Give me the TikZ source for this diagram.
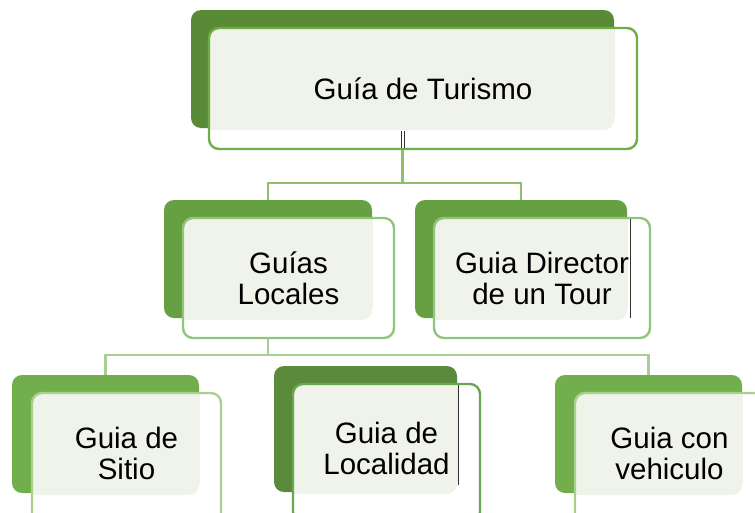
\documentclass[tikz,border=0pt]{standalone}
\usepackage{fontspec}
\setmainfont{Liberation Sans}
\definecolor{topback}{HTML}{598B37}
\definecolor{topline}{HTML}{70AD47}
\definecolor{midback}{HTML}{67A042}
\definecolor{midline}{HTML}{93C47D}
\definecolor{botback}{HTML}{72AE4C}
\definecolor{botline}{HTML}{A9D18E}
\definecolor{locback}{HTML}{5B8A3A}
\definecolor{locline}{HTML}{6AA84F}
\definecolor{fillc}{HTML}{EFF3EA}
\definecolor{connA}{HTML}{8DBF6E}
\definecolor{connB}{HTML}{A8CF92}
\tikzset{
  backbox/.style={fill=#1, draw=none, rounded corners=10pt, inner sep=0pt},
  frontbox/.style={draw=#1, line width=2.4pt, rounded corners=10pt, inner sep=0pt,
    align=center, font=\fontsize{29.5}{31}\selectfont},
  boxtext/.style={inner sep=0pt, align=center, font=\fontsize{29.5}{31}\selectfont},
  lightfill/.style={fill=fillc, rounded corners=10pt},
  conn/.style={draw=#1, line width=2.4pt},
  artifact/.style={draw=black!80, line width=0.8pt}
}
% light fill: rounded top-left and bottom-right corners, square elsewhere
\newcommand\lfill[4]{%
  \path[lightfill] (#1,#2) rectangle (#3,#4);
  \path[fill=fillc] (#3-10,#2) rectangle (#3,#2+10);
  \path[fill=fillc] (#1,#4-10) rectangle (#1+10,#4);
}
\begin{document}
\begin{tikzpicture}[x=1pt,y=-1pt]
\useasboundingbox (0,0) rectangle (755,512);
\clip (0,0) rectangle (755,512);

% top box
\node[backbox=topback, minimum width=423pt, minimum height=118pt] (tb) at (402.5,69) {};
\lfill{209}{28}{614}{130}
\node[frontbox=topline, minimum width=428pt, minimum height=121pt] (top) at (423,88.5) {Guía de Turismo};

% middle left
\node[backbox=midback, minimum width=208pt, minimum height=118pt] (lb) at (268,259) {};
\lfill{183}{218}{372}{320}
\node[frontbox=midline, minimum width=211pt, minimum height=120pt] (gl) at (288.5,278) {Guías\\Locales};

% middle right
\node[backbox=midback, minimum width=212pt, minimum height=118pt] (rb) at (521,259) {};
\lfill{434}{218}{627}{320}
\node[frontbox=midline, minimum width=216pt, minimum height=120pt] (gd) at (542,278) {Guia Director\\de un Tour};

% bottom left
\node[backbox=botback, minimum width=187pt, minimum height=118pt] (sb) at (105.5,434) {};
\lfill{32}{393}{199}{495}
\node[frontbox=botline, minimum width=189pt, minimum height=130pt] (gsf) at (126.5,458) {};
\node[boxtext] (gs) at (126.5,453) {Guia de\\Sitio};

% bottom middle
\node[backbox=locback, minimum width=183pt, minimum height=126pt] (mb) at (365.5,429) {};
\lfill{293}{384}{457}{494}
\node[frontbox=locline, minimum width=187pt, minimum height=138pt] (gmf) at (386.5,453) {};
\node[boxtext] (gm) at (386.5,448) {Guia de\\Localidad};

% bottom right
\node[backbox=botback, minimum width=187pt, minimum height=118pt] (vb) at (648.5,434) {};
\lfill{575}{393}{742}{495}
\node[frontbox=botline, minimum width=189pt, minimum height=130pt] (gvf) at (669.5,458) {};
\node[boxtext] (gv) at (669.5,453) {Guia con\\vehiculo};

% connectors
\coordinate (j1) at (402.5,183);
\coordinate (j2) at (268,355);
\draw[conn=connA] (tb.south |- top.south) -- (j1);
\draw[conn=connA] (lb.north) |- (j1) -| (rb.north);
\draw[conn=connB] (lb.south |- gl.south) -- (j2);
\draw[conn=connB] (sb.north) |- (j2) -| (vb.north);

% thin dark marks
\draw[artifact] (401,131) -- (401,148);
\draw[artifact] (404,131) -- (404,148);
\draw[artifact] (630,219) -- (630,318);
\draw[artifact] (458,385) -- (458,485);
\end{tikzpicture}
\end{document}
